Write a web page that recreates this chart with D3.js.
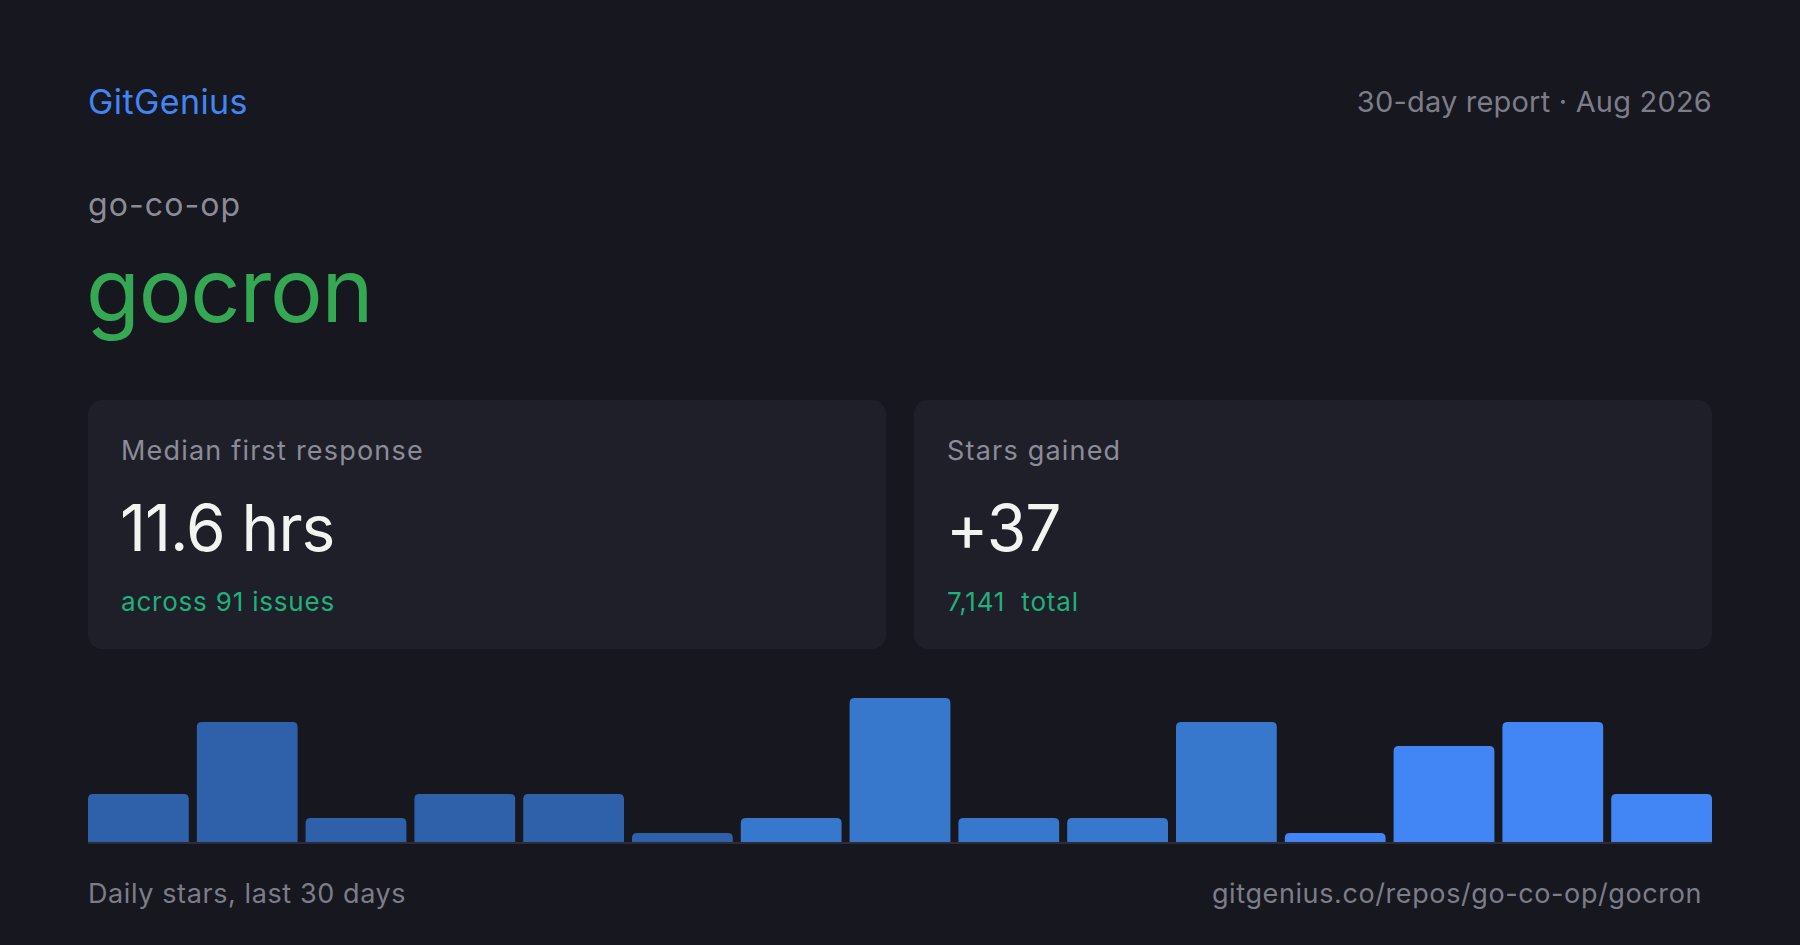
<!DOCTYPE html>
<html>
<head>
<meta charset="utf-8">
<script src="https://cdn.jsdelivr.net/npm/d3@7"></script>
<style>
  html, body { margin: 0; padding: 0; background: #16171f; }
  svg { display: block; font-family: Inter, "Noto Sans", sans-serif; }
</style>
</head>
<body>
<svg id="chart" width="1800" height="945"></svg>
<script>
// two-day buckets over the last 30 days
const buckets = d3.range(15)
const stars = [2, 5, 1, 2, 2, 0, 1, 6, 1, 1, 5, 0, 4, 5, 2]

const brand = 'GitGenius'
const period = '30-day report · Aug 2026'
const owner = 'go-co-op'
const repo = 'gocron'

const cardLabels = ['Median first response', 'Stars gained']
const cardValues = ['11.6 hrs', '+37']
const cardNotes = ['across 91 issues', '7,141  total']

const footLeft = 'Daily stars, last 30 days'
const footRight = 'gitgenius.co/repos/go-co-op/gocron'

const W = 1800, H = 945
const pad = { left: 88, right: 88 }
const colors = {
  bg: '#16171f',
  card: '#1f1f2a',
  blue: '#4285f4',
  green: '#34a853',
  teal: '#20b07c',
  muted: '#7d7d89',
  label: '#8c8c98',
  white: '#f3f3f1',
  axis: '#2b2c37'
}

const svg = d3.select('#chart')

svg.append('rect')
    .attr('width', W)
    .attr('height', H)
    .style('fill', colors.bg)

// header
svg.append('text')
    .attr('x', pad.left)
    .attr('y', 114)
    .style('font-size', '34px')
    .style('letter-spacing', '0.4px')
    .style('fill', colors.blue)
    .text(brand)

svg.append('text')
    .attr('x', W - pad.right)
    .attr('y', 112)
    .attr('text-anchor', 'end')
    .style('font-size', '29px')
    .style('letter-spacing', '0.2px')
    .style('fill', colors.muted)
    .text(period)

svg.append('text')
    .attr('x', pad.left)
    .attr('y', 216)
    .style('font-size', '32px')
    .style('letter-spacing', '1.1px')
    .style('fill', colors.label)
    .text(owner)

svg.append('text')
    .attr('x', pad.left - 2)
    .attr('y', 322)
    .style('font-size', '88px')
    .style('letter-spacing', '-1.2px')
    .style('fill', colors.green)
    .text(repo)

// stat cards
let cardGap = 28,
  cardW = (W - pad.left - pad.right - cardGap) / 2

let cards = svg.selectAll('g.card')
  .data(cardLabels)
  .enter().append('g')
    .attr('class', 'card')
    .attr('transform', (d, i) => `translate(${ pad.left + i * (cardW + cardGap) },400)`)

cards.append('rect')
    .attr('width', cardW)
    .attr('height', 249)
    .attr('rx', 14)
    .style('fill', colors.card)

cards.append('text')
    .attr('x', 33)
    .attr('y', 60)
    .style('font-size', '27px')
    .style('letter-spacing', '1.2px')
    .style('fill', colors.label)
    .text(d => d)

cards.append('text')
    .attr('x', 32)
    .attr('y', 151)
    .style('font-size', '64px')
    .style('letter-spacing', '-1px')
    .style('fill', colors.white)
    .text((d, i) => cardValues[i])

cards.append('text')
    .attr('x', 33)
    .attr('y', 211)
    .style('font-size', '26px')
    .style('letter-spacing', '0.8px')
    .style('fill', colors.teal)
    .style('white-space', 'pre')
    .text((d, i) => cardNotes[i])

// sparkline bars
let base = 842

let x = d3.scaleBand()
  .domain(buckets)
  .range([pad.left, W - pad.right])
  .paddingInner(8 / 108.8)

let y = d3.scaleLinear()
  .domain([0, d3.max(stars)])
  .range([base, 698])

let tone = d3.scaleThreshold()
  .domain([6, 11])
  .range(['#2f60aa', '#3778cc', '#4285f4'])

function topRounded(x0, y0, w, h, r) {
  r = Math.min(r, h, w / 2)
  return `M${ x0 },${ y0 + h }V${ y0 + r }Q${ x0 },${ y0 } ${ x0 + r },${ y0 }` +
    `H${ x0 + w - r }Q${ x0 + w },${ y0 } ${ x0 + w },${ y0 + r }V${ y0 + h }Z`
}

svg.append('g')
    .attr('class', 'bars')
  .selectAll('path')
  .data(buckets)
  .enter().append('path')
    .attr('d', i => {
      let h = Math.max(base - y(stars[i]), 9)
      return topRounded(x(i), base - h, x.bandwidth(), h, 5)
    })
    .style('fill', i => tone(i))

svg.append('rect')
    .attr('x', pad.left)
    .attr('y', base)
    .attr('width', W - pad.left - pad.right)
    .attr('height', 2)
    .style('fill', colors.axis)

// footer
svg.append('text')
    .attr('x', pad.left)
    .attr('y', 903)
    .style('font-size', '27px')
    .style('letter-spacing', '0.6px')
    .style('fill', colors.muted)
    .text(footLeft)

svg.append('text')
    .attr('x', 1702)
    .attr('y', 903)
    .attr('text-anchor', 'end')
    .style('font-size', '27px')
    .style('letter-spacing', '0.6px')
    .style('fill', colors.muted)
    .text(footRight)
</script>
</body>
</html>
